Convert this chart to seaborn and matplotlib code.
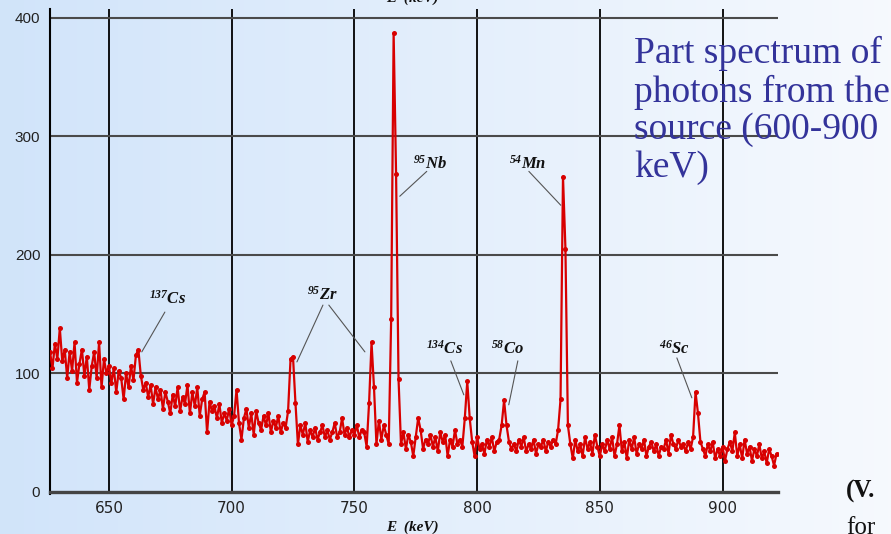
import numpy as np
import matplotlib
matplotlib.use("Agg")
import matplotlib.pyplot as plt
import seaborn as sns

# gamma spectrum, 1 keV channels starting at 626 keV
e_start = 626
counts = [
    118, 104, 125, 112, 138, 110, 120, 96, 118, 102,   # 626
    126, 92, 108, 120, 98, 114, 86, 106, 118, 96,      # 636
    126, 88, 112, 100, 106, 92, 104, 84, 102, 96,      # 646
    78, 100, 88, 106, 94, 115, 120, 98, 86, 92,        # 656
    80, 90, 74, 88, 78, 86, 70, 84, 76, 66,            # 666
    82, 72, 88, 68, 80, 74, 90, 66, 84, 72,            # 676
    88, 64, 78, 84, 50, 76, 68, 72, 62, 74,            # 686
    58, 66, 60, 70, 56, 64, 86, 58, 44, 62,            # 696
    70, 54, 66, 48, 68, 58, 52, 64, 56, 66,            # 706
    50, 60, 54, 64, 50, 58, 54, 68, 112, 114,          # 716
    75, 40, 56, 48, 58, 42, 52, 46, 54, 44,            # 726
    50, 56, 46, 52, 44, 50, 58, 46, 50, 62,            # 736
    48, 54, 46, 52, 48, 56, 46, 52, 50, 38,            # 746
    75, 126, 88, 40, 60, 44, 56, 48, 40, 146,          # 756
    387, 268, 95, 40, 50, 36, 48, 42, 30, 46,          # 766
    62, 52, 36, 44, 40, 48, 38, 46, 34, 50,            # 776
    42, 48, 30, 44, 38, 52, 40, 44, 38, 62,            # 786
    93, 62, 42, 30, 46, 36, 40, 32, 44, 38,            # 796
    46, 34, 42, 44, 56, 77, 56, 42, 36, 40,            # 806
    34, 44, 38, 46, 34, 40, 36, 44, 32, 40,            # 816
    38, 44, 34, 42, 38, 44, 40, 52, 78, 266,           # 826
    205, 56, 40, 28, 44, 34, 40, 30, 46, 36,           # 836
    42, 32, 48, 38, 30, 40, 34, 44, 36, 46,            # 846
    30, 40, 56, 34, 42, 28, 44, 36, 46, 32,            # 856
    40, 36, 44, 30, 38, 42, 34, 40, 30, 38,            # 866
    36, 44, 32, 48, 40, 36, 44, 38, 40, 34,            # 876
    42, 36, 46, 84, 66, 42, 36, 30, 40, 34,            # 886
    42, 28, 36, 30, 38, 26, 36, 42, 34, 50,            # 896
    30, 40, 28, 44, 32, 38, 26, 36, 30, 40,            # 906
    28, 34, 24, 36, 30, 22, 32,                        # 916
]
energy = np.arange(e_start, e_start + len(counts))

# isotope labels: text position and pointer line(s) (start, end)
iso_mass = ["137", "95", "95", "134", "58", "54", "46"]
iso_name = ["Cs", "Zr", "Nb", "Cs", "Co", "Mn", "Sc"]
label_xy = [(674, 163), (737, 166), (781, 277), (786.7, 120.5),
            (812.6, 120.5), (820.7, 277), (880.4, 120.5)]
pointers = [
    [((672.8, 151.6), (663.4, 118))],
    [((737.2, 157.5), (726.6, 109.5)), ((739.6, 157.5), (754.3, 118))],
    [((779.5, 270.4), (768.5, 249.4))],
    [((789.3, 110.4), (794.6, 81.7))],
    [((816.6, 110.4), (812.9, 73.3))],
    [((821.1, 270.4), (834.1, 241.8))],
    [((881.4, 112.9), (887.5, 79.2))],
]

xticks = [650, 700, 750, 800, 850, 900]
yticks = [0, 100, 200, 300, 400]

sns.set_style("white")
plt.rcParams['mathtext.fontset'] = 'custom'
plt.rcParams['mathtext.rm'] = 'Liberation Serif:bold:italic'
plt.rcParams['mathtext.it'] = 'Liberation Serif:bold:italic'

fig = plt.figure(figsize=(8.91, 5.34), dpi=100)

# slide background gradient
bg = fig.add_axes([0, 0, 1, 1], zorder=-10)
c_left = np.array([0.82, 0.895, 0.98])
c_right = np.array([0.965, 0.978, 0.996])
t = np.linspace(0, 1, 256)
row = c_left[None, :] * (1 - t[:, None]) + c_right[None, :] * t[:, None]
grad = np.repeat(row[None, :, :], 2, axis=0)
bg.imshow(grad, aspect='auto', extent=[0, 1, 0, 1])
bg.axis('off')

W, H = 891, 534
ax = fig.add_axes([50 / W, (H - 494) / H, (778 - 50) / W, (494 - 9) / H])
ax.patch.set_alpha(0)

sns.lineplot(x=energy, y=counts, ax=ax, color='#d80000', linewidth=1.6,
             marker='o', markersize=3.6, markeredgewidth=0, zorder=3)

ax.set_xlim(626, 922.6)
ax.set_ylim(-2, 407.5)
ax.set_xticks(xticks)
ax.set_yticks(yticks)
ax.tick_params(length=0, labelsize=11, colors='#222222', pad=7)
for lab in ax.get_xticklabels() + ax.get_yticklabels():
    lab.set_fontfamily('Liberation Sans')

for x in xticks:
    ax.axvline(x, color='black', lw=1.3, zorder=1)
for y in yticks[1:]:
    ax.axhline(y, color='#4a4a4a', lw=1.5, zorder=1)

for s in ['top', 'right']:
    ax.spines[s].set_visible(False)
ax.spines['left'].set_color('black')
ax.spines['left'].set_linewidth(1.5)
ax.spines['bottom'].set_position(('data', 0))
ax.spines['bottom'].set_color('#444444')
ax.spines['bottom'].set_linewidth(2.4)
ax.set_xlabel('')
ax.set_ylabel('')

for m, n, (tx, ty), lines in zip(iso_mass, iso_name, label_xy, pointers):
    ax.text(tx, ty, r'$^{%s}$%s' % (m, n), ha='center', va='center',
            fontsize=12, fontfamily='Liberation Serif', fontweight='bold',
            fontstyle='italic', color='#111111', zorder=4)
    for (x0, y0), (x1, y1) in lines:
        ax.plot([x0, x1], [y0, y1], color='#555555', lw=0.8, zorder=4)

# axis label drawn both below and (cut off) above the plot
for ypx in (527, -1.5):
    fig.text(412 / W, 1 - ypx / H, 'E  (keV)', ha='center', va='center',
             fontsize=11, fontfamily='Liberation Serif', fontweight='bold',
             fontstyle='italic', color='#111111')

fig.text(634 / W, 1 - 36 / H,
         'Part spectrum of\nphotons from the\nsource (600-900\nkeV)',
         ha='left', va='top', fontsize=27, fontfamily='Liberation Serif',
         color='#33339a', linespacing=1.12)

fig.text(846 / W, 1 - 498 / H, '(V.', ha='left', va='baseline',
         fontsize=18, fontfamily='Liberation Serif', fontweight='bold',
         color='#111111')
fig.text(846 / W, 1 - 534 / H, 'for', ha='left', va='baseline',
         fontsize=18, fontfamily='Liberation Serif', color='#111111')

fig.savefig('out.png', dpi=100)
